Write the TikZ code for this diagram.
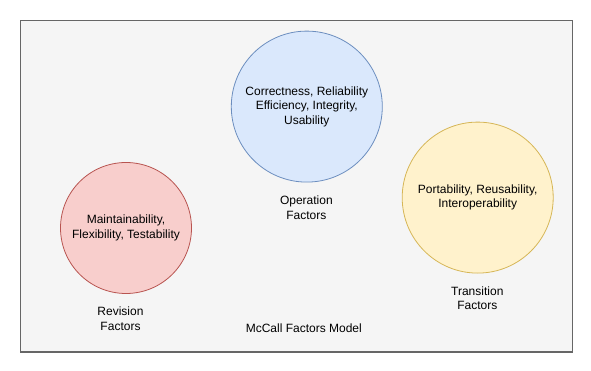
\documentclass[tikz,border=0pt]{standalone}
\usepackage{fontspec}
\setmainfont{Liberation Sans}
\begin{document}
\begin{tikzpicture}[x=1pt,y=-1pt,
  factor/.style={circle, minimum size=151pt, inner sep=0pt, line width=0.8pt, align=center,
    font=\fontsize{12}{14.5}\selectfont},
  caption/.style={align=center, font=\fontsize{12}{14.8}\selectfont}]
\useasboundingbox (0,0) rectangle (591,371);
\definecolor{framefill}{HTML}{F5F5F5}
\definecolor{framedraw}{HTML}{666666}
\draw[fill=framefill, draw=framedraw, line width=1.5pt] (20.5,20.5) rectangle (572.5,352);

\node[factor, fill={rgb,255:red,218;green,232;blue,252}, draw={rgb,255:red,108;green,142;blue,191}]
  (operation) at (306.8,106.6) {Correctness, Reliability\\Efficiency, Integrity,\\Usability};
\node[factor, minimum size=131pt, fill={rgb,255:red,248;green,206;blue,204}, draw={rgb,255:red,184;green,84;blue,80}]
  (revision) at (126,228) {Maintainability,\\Flexibility, Testability};
\node[factor, fill={rgb,255:red,255;green,242;blue,204}, draw={rgb,255:red,214;green,182;blue,86}]
  (transition) at (477.7,197.6) {Portability, Reusability,\\Interoperability};

\node[caption] (operationlabel) at (306.4,207.4) {Operation\\Factors};
\node[caption] (revisionlabel) at (120.5,318.5) {Revision\\Factors};
\node[caption] (transitionlabel) at (477.3,298.3) {Transition\\Factors};
\node[caption] (model) at (303.8,328.2) {McCall Factors Model};

\end{tikzpicture}
\end{document}
